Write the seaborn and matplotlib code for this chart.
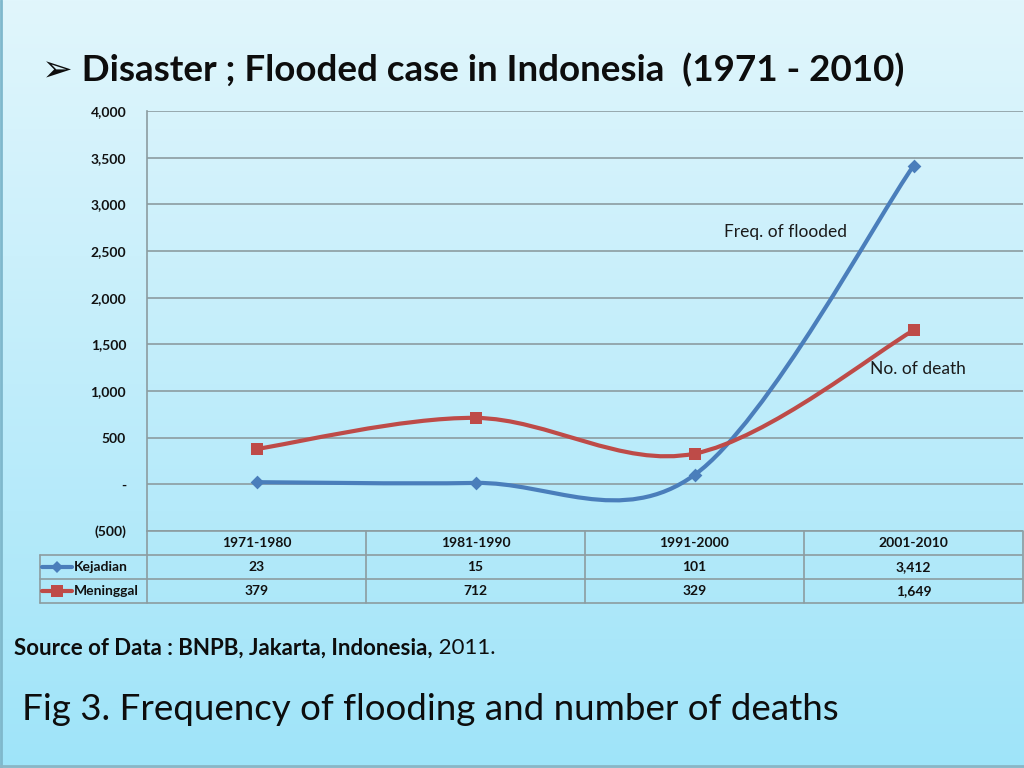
import numpy as np
import pandas as pd
import matplotlib
matplotlib.use("Agg")
import matplotlib.pyplot as plt
import seaborn as sns
from matplotlib.path import Path
from matplotlib.patches import PathPatch
from matplotlib.transforms import blended_transform_factory
from matplotlib.ticker import FuncFormatter

# ---- data ----
periods = ["1971-1980", "1981-1990", "1991-2000", "2001-2010"]
kejadian = [23, 15, 101, 3412]
meninggal = [379, 712, 329, 1649]
series_names = ["Kejadian", "Meninggal"]
y_ticks = [-500, 0, 500, 1000, 1500, 2000, 2500, 3000, 3500, 4000]

title = "\u27a2 Disaster ; Flooded case in Indonesia  (1971 - 2010)"
label_freq = "Freq. of flooded"
label_death = "No. of death"

BLUE = "#4a7ebb"
RED = "#be4b48"
GRID = "#8c9ca0"

sns.set_theme(style="white")
plt.rcParams["font.family"] = ["Lato", "DejaVu Sans"]

W, H = 1024, 768
fig = plt.figure(figsize=(W / 100, H / 100), dpi=100)

# gradient background
bg = fig.add_axes([0, 0, 1, 1], zorder=-10)
top = np.array([0xe1, 0xf6, 0xfc]) / 255
bot = np.array([0x9f, 0xe4, 0xf9]) / 255
t = np.linspace(0, 1, 256)[:, None]
grad = (top[None, :] * (1 - t) + bot[None, :] * t)[:, None, :]
bg.imshow(grad, aspect="auto", extent=[0, 1, 0, 1])
bg.plot([0.001, 0.001], [0, 1], color="#7fb8cc", lw=2)
bg.plot([0, 1], [0.003, 0.003], color="#8ab6c6", lw=2)
bg.set_xlim(0, 1); bg.set_ylim(0, 1)
bg.axis("off")

def fx(px):
    return px / W

def fy(py):
    return 1 - py / H

ax = fig.add_axes([fx(147), fy(531), fx(1023) - fx(147), fy(111) - fy(531)])
ax.set_facecolor("none")

df = pd.DataFrame({"period": periods * 2,
                   "x": list(range(len(periods))) * 2,
                   "value": kejadian + meninggal,
                   "series": [series_names[0]] * 4 + [series_names[1]] * 4})

def smooth_path(xs, ys):
    pts = np.column_stack([xs, ys]).astype(float)
    n = len(pts)
    verts = [pts[0]]
    codes = [Path.MOVETO]
    for i in range(n - 1):
        p0 = pts[max(i - 1, 0)]
        p1 = pts[i]
        p2 = pts[i + 1]
        p3 = pts[min(i + 2, n - 1)]
        c1 = p1 + (p2 - p0) / 6
        c2 = p2 - (p3 - p1) / 6
        verts += [c1, c2, p2]
        codes += [Path.CURVE4] * 3
    return Path(verts, codes)

for name, color, marker, ms in [(series_names[0], BLUE, "D", 7), (series_names[1], RED, "s", 9)]:
    sub = df[df.series == name]
    ax.add_patch(PathPatch(smooth_path(sub.x.values, sub.value.values), fill=False,
                           edgecolor=color, lw=3, zorder=3, capstyle="round"))
    sns.scatterplot(data=sub, x="x", y="value", ax=ax, marker=marker, s=ms ** 2,
                    color=color, edgecolor=color, linewidth=0, zorder=4, legend=False)

ax.set_xlim(-0.5, len(periods) - 0.5)
ax.set_ylim(-500, 4000)
ax.set_yticks(y_ticks)
ax.yaxis.grid(True, color=GRID, lw=1.2)
ax.set_axisbelow(True)

def fmt(v, pos):
    if v == 0:
        return "-"
    if v < 0:
        return f"({abs(v):,.0f})"
    return f"{v:,.0f}"

ax.yaxis.set_major_formatter(FuncFormatter(fmt))
ax.tick_params(axis="y", length=0, pad=15, labelsize=10)
for lbl in ax.get_yticklabels():
    lbl.set_fontweight("bold")
    lbl.set_color("#111111")
ax.set_xticks([])
ax.set_xlabel("")
ax.set_ylabel("")
for s in ["top", "right", "bottom"]:
    ax.spines[s].set_visible(False)
ax.spines["left"].set_color(GRID)
ax.spines["left"].set_linewidth(1.2)

# ---- data table ----
tr = blended_transform_factory(ax.transData, ax.transAxes)
row_h = 24 / 420
x_lab = -0.5 - 107 / 219
x_end = len(periods) - 0.5 - 1 / 219
ys = [0, -row_h, -2 * row_h, -3 * row_h]
kw = dict(transform=tr, clip_on=False, color=GRID, lw=1.2, zorder=2)
ax.plot([-0.5, x_end], [ys[0], ys[0]], **kw)
for yy in ys[1:]:
    ax.plot([x_lab, x_end], [yy, yy], **kw)
ax.plot([x_lab, x_lab], [ys[1], ys[3]], **kw)
ax.plot([-0.5, -0.5], [ys[0], ys[3]], **kw)
for i in range(len(periods)):
    ax.plot([i + 0.5, i + 0.5], [ys[0], ys[3]], **kw)

tkw = dict(transform=tr, ha="center", va="center", fontsize=10, fontweight="bold",
           color="#111111", clip_on=False)
for i, p in enumerate(periods):
    ax.text(i, (ys[0] + ys[1]) / 2, p, **tkw)
    ax.text(i, (ys[1] + ys[2]) / 2, f"{kejadian[i]:,}", **tkw)
    ax.text(i, (ys[2] + ys[3]) / 2, f"{meninggal[i]:,}", **tkw)

# legend keys in table
for r, (name, color, marker, ms) in enumerate([(series_names[0], BLUE, "D", 6), (series_names[1], RED, "s", 8)]):
    yc = (ys[r + 1] + ys[r + 2]) / 2
    x0 = x_lab + 2 / 219
    x1 = x_lab + 32 / 219
    ax.plot([x0, x1], [yc, yc], color=color, lw=3, transform=tr, clip_on=False, zorder=3)
    ax.plot([(x0 + x1) / 2], [yc], marker=marker, ms=ms, color=color, transform=tr,
            clip_on=False, zorder=4, mew=0)
    ax.text(x_lab + 34 / 219, yc, name, transform=tr, ha="left", va="center", fontsize=10,
            fontweight="bold", color="#111111", clip_on=False)

# annotations
ax.text(2.135, 2705, label_freq, ha="left", va="center", fontsize=12.5, color="#1a1a1a")
ax.text(2.80, 1240, label_death, ha="left", va="center", fontsize=12.5, color="#1a1a1a")

# title and captions
fig.text(fx(42), fy(70), title, fontsize=26.5, fontweight="bold", ha="left", va="center",
         color="#0d0d0d", family=["Lato", "DejaVu Sans"])
src = fig.text(fx(14), fy(648), "Source of Data : BNPB, Jakarta, Indonesia,", fontsize=16,
               fontweight="bold", ha="left", va="center", color="#0d0d0d")
ax.annotate(" 2011.", xy=(1, 0.5), xycoords=src, ha="left", va="center", fontsize=16,
            color="#0d0d0d", annotation_clip=False)
fig.text(fx(22), fy(710), "Fig 3. Frequency of flooding and number of deaths", fontsize=26.5,
         ha="left", va="center", color="#0d0d0d")

fig.savefig("out.png", dpi=100)
